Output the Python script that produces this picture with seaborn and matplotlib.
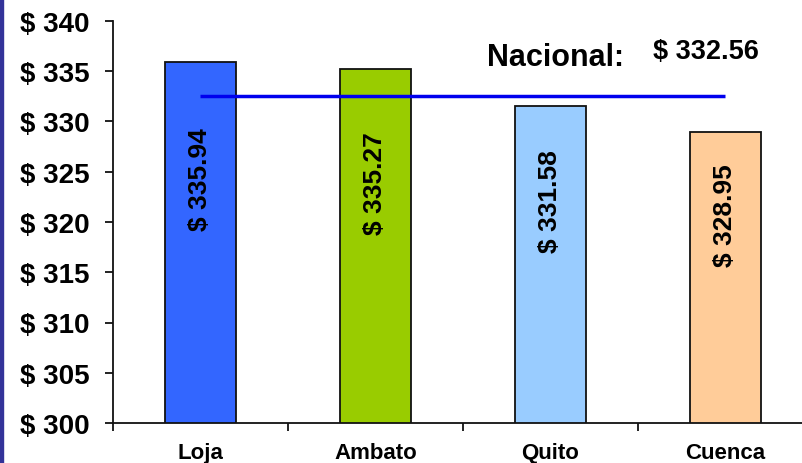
import matplotlib
matplotlib.use('Agg')
import matplotlib.pyplot as plt
from matplotlib.patches import Rectangle
from matplotlib.ticker import FixedLocator, FuncFormatter
import seaborn as sns
import pandas as pd

ciudades = ['Loja', 'Ambato', 'Quito', 'Cuenca']
valores = [335.94, 335.27, 331.58, 328.95]
colores = ['#3366FF', '#99CC00', '#99CCFF', '#FFCC99']
nacional = 332.56

sns.set_style('white')
plt.rcParams['font.family'] = ['Liberation Sans', 'DejaVu Sans']
plt.rcParams['font.weight'] = 'bold'
plt.rcParams['text.color'] = 'black'
plt.rcParams['xtick.color'] = 'black'
plt.rcParams['ytick.color'] = 'black'

ds = pd.DataFrame({'ciudad': ciudades, 'valor': valores})

fig = plt.figure(figsize=(8.03, 4.64), dpi=100)
ax = fig.add_axes([113 / 803, 40 / 464, 700 / 803, 402 / 464])

sns.barplot(data=ds, x='ciudad', y='valor', hue='ciudad', palette=colores,
            saturation=1, dodge=False, legend=False, width=0.405,
            edgecolor='#111111', linewidth=1.3, ax=ax)

# linea del promedio nacional
ax.plot([0, len(ciudades) - 1], [nacional, nacional], color='#0000EE', lw=2.5,
        solid_capstyle='butt', zorder=5)

# etiquetas dentro de las barras
for i, v in enumerate(valores):
    ax.text(i, (v + 300) / 2 + 6.3, '$ %.2f' % v, rotation=90, ha='center',
            va='center', fontsize=19, fontweight='bold', color='black')

ax.text(2.03, 336.4, 'Nacional:', ha='center', va='center', fontsize=22,
        fontweight='bold', color='black')
ax.text(2.89, 337.0, '$ %.2f' % nacional, ha='center', va='center',
        fontsize=19.5, fontweight='bold', color='black')

ax.set_ylim(300, 340)
ax.set_xlim(-0.5, len(ciudades) - 0.5)
ax.set_yticks(range(300, 341, 5))
ax.yaxis.set_major_formatter(FuncFormatter(lambda y, p: '$ %d' % y))
ax.xaxis.set_major_locator(FixedLocator([i - 0.5 for i in range(len(ciudades) + 1)]))
ax.xaxis.set_minor_locator(FixedLocator(range(len(ciudades))))
ax.set_xticklabels([])
ax.set_xticklabels(ciudades, minor=True)
ax.tick_params(axis='x', which='minor', length=0, pad=14, labelsize=16,
               labelcolor='black')
ax.tick_params(axis='x', which='major', length=6, width=1.3, direction='out',
               color='#111111', bottom=True)
ax.tick_params(axis='y', length=6, width=1.3, direction='out', pad=11,
               labelsize=20, color='#111111', labelcolor='black', left=True)
for lbl in ax.get_xticklabels(minor=True) + ax.get_yticklabels():
    lbl.set_fontweight('bold')

sns.despine(ax=ax, top=True, right=True)
ax.spines['left'].set_linewidth(1.3)
ax.spines['bottom'].set_linewidth(1.3)
ax.spines['left'].set_color('#111111')
ax.spines['bottom'].set_color('#111111')
ax.set_xlabel('')
ax.set_ylabel('')

# borde azul a la izquierda
fig.patches.append(Rectangle((0, 0), 3 / 803, 1, transform=fig.transFigure,
                             color='#333399', zorder=10))

fig.savefig('out.png', dpi=100)
